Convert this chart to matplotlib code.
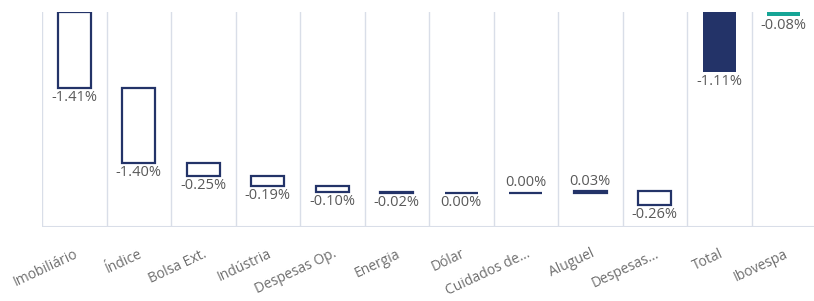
import matplotlib
matplotlib.use("Agg")
import matplotlib.pyplot as plt
import numpy as np

categories = ["Imobiliário", "Índice", "Bolsa Ext.", "Indústria", "Despesas Op.",
              "Energia", "Dólar", "Cuidados de...", "Aluguel", "Despesas...",
              "Total", "Ibovespa"]
changes = [-1.41, -1.40, -0.25, -0.19, -0.10, -0.02, -0.001, 0.002, 0.03, -0.26]
total_value = -1.11
ibov_value = -0.08

navy = "#233368"
teal = "#16A596"
grid_c = "#D9DEE8"
text_c = "#595959"
tick_c = "#6E6E6E"

plt.rcParams['font.family'] = ['Open Sans', 'DejaVu Sans']

fig = plt.figure(figsize=(8.14, 3.01), dpi=100)
ax = fig.add_axes([42/814, 1-227/301, 774/814, 215/301])

n = len(categories)
x = np.arange(n)
w = 0.51
fs = 10.5

def fmt(v):
    s = f"{v:.2f}%"
    if s == "-0.00%":
        s = "0.00%"
    return s

cum = 0.0
for i, v in enumerate(changes):
    start = cum
    end = cum + v
    lo, hi = min(start, end), max(start, end)
    ax.bar(x[i], hi - lo, bottom=lo, width=w, facecolor="white",
           edgecolor=navy, linewidth=1.6, zorder=3)
    if v >= 0:
        ax.text(x[i], hi + 0.04, fmt(v), ha="center", va="bottom",
                fontsize=fs, color=text_c, zorder=4)
    else:
        ax.text(x[i], lo - 0.04, fmt(v), ha="center", va="top",
                fontsize=fs, color=text_c, zorder=4)
    cum = end

ax.bar(x[10], total_value, width=w, color=navy, zorder=3)
ax.text(x[10], total_value - 0.04, fmt(total_value), ha="center", va="top",
        fontsize=fs, color=text_c, zorder=4)
ax.bar(x[11], ibov_value, width=w, color=teal, zorder=3)
ax.text(x[11], ibov_value - 0.04, fmt(ibov_value), ha="center", va="top",
        fontsize=fs, color=text_c, zorder=4)

ax.set_xlim(-0.5, n - 0.5)
ax.set_ylim(-4.01, 0)
for b in np.arange(-0.5, n, 1.0):
    ax.axvline(b, color=grid_c, linewidth=1, zorder=1)
ax.axhline(-4.01, color=grid_c, linewidth=1.5, zorder=1)
for s in ax.spines.values():
    s.set_visible(False)
ax.set_yticks([])
ax.set_xticks(x)
ax.set_xticklabels(categories, rotation=25, ha="right", rotation_mode="anchor",
                   fontsize=10, color=tick_c)
ax.tick_params(axis="x", length=0, pad=14)

fig.savefig("out.png", dpi=100)
